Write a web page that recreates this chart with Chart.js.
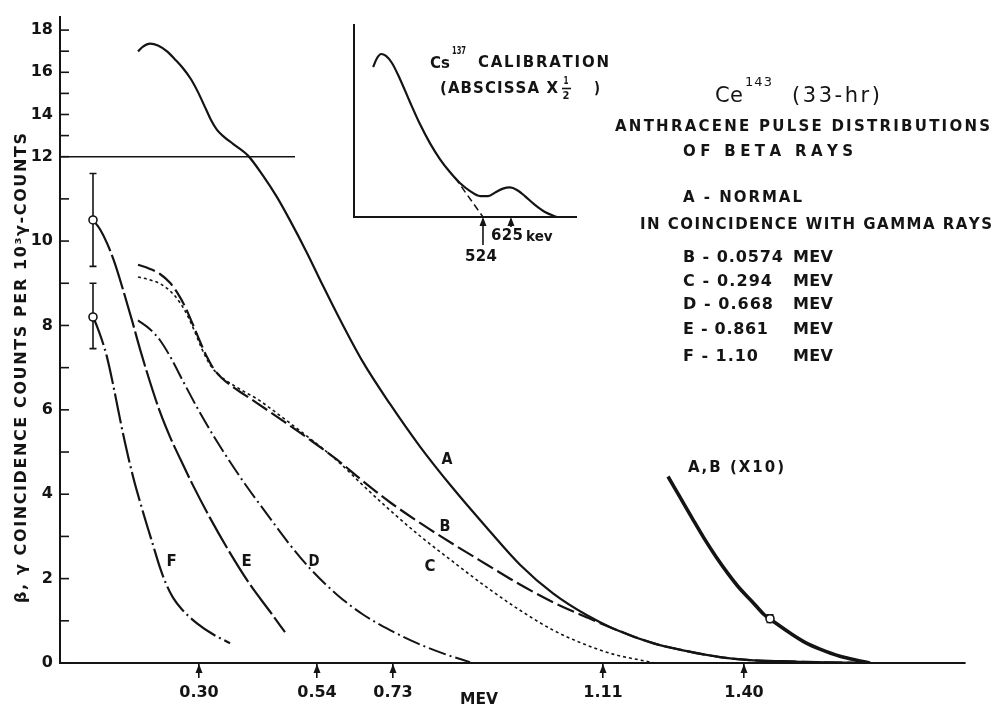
<!DOCTYPE html>
<html>
<head>
<meta charset="utf-8">
<script src="https://cdn.jsdelivr.net/npm/chart.js@4.4.1/dist/chart.umd.min.js"></script>
<style>
  html, body { margin: 0; padding: 0; background: #fff; }
  #wrap { position: relative; width: 996px; height: 709px; }
  #main { position: absolute; left: 0; top: 0; }
  #inset { position: absolute; left: 340px; top: 0; }
</style>
</head>
<body>
<div id="wrap">
  <canvas id="main" width="996" height="709"></canvas>
  <canvas id="inset" width="300" height="270"></canvas>
</div>
<script>
const INK = '#141414';
const FONT = '"DejaVu Sans", sans-serif';

// abscissa is pulse height (arbitrary units); arrows mark calibration energies
const calibPulse = [13.9, 25.7, 33.3, 54.3, 68.4];
const calibMeV = ['0.30', '0.54', '0.73', '1.11', '1.40'];
const countTicks = [0, 1, 2, 3, 4, 5, 6, 7, 8, 9, 10, 11, 12, 13, 14, 15, 16, 17, 18];

// A - normal spectrum
const pulseA = [7.8, 8.3, 9.0, 9.8, 10.7, 11.5, 12.3, 13.1, 13.8, 14.5, 15.1, 15.7, 16.4, 17.3, 18.8, 20.3, 21.7, 23.0, 24.7, 26.3, 28.0, 30.3, 33.0, 36.0, 39.3, 42.7, 46.0, 49.3, 52.7, 55.3, 59.3, 62.7, 66.0, 69.0, 74.0, 80.5];
const countsA = [16.99, 17.22, 17.36, 17.27, 16.99, 16.61, 16.19, 15.67, 15.06, 14.35, 13.74, 13.27, 12.94, 12.61, 12.05, 11.55, 11.04, 10.49, 9.72, 8.94, 8.14, 7.13, 6.14, 5.13, 4.14, 3.2, 2.33, 1.65, 1.13, 0.82, 0.47, 0.28, 0.14, 0.07, 0.03, 0];

// B - coincidence with 0.0574 MeV
const pulseB = [7.8, 9.0, 10.0, 11.0, 11.8, 12.5, 13.2, 14.0, 14.7, 15.4, 16.2, 17.3, 18.5, 19.7, 22.3, 25.0, 27.7, 30.3, 33.0, 36.0, 39.3, 42.7, 46.0, 49.3, 52.7, 55.3, 59.3, 62.7, 66.0, 69.0, 74.0, 80.5];
const countsB = [9.44, 9.34, 9.22, 9.01, 8.75, 8.45, 8.07, 7.62, 7.25, 6.96, 6.75, 6.54, 6.35, 6.16, 5.74, 5.29, 4.82, 4.31, 3.81, 3.32, 2.82, 2.33, 1.86, 1.44, 1.08, 0.82, 0.47, 0.28, 0.14, 0.07, 0.03, 0];

// C - 0.294 MeV
const pulseC = [7.8, 9.0, 10.0, 11.0, 12.0, 12.8, 13.5, 14.2, 14.9, 15.6, 16.4, 17.3, 18.5, 19.7, 22.3, 25.0, 27.7, 30.3, 33.0, 36.0, 39.3, 42.7, 46.0, 49.3, 52.7, 55.3, 58.0, 59.5];
const countsC = [9.15, 9.08, 8.99, 8.82, 8.54, 8.21, 7.84, 7.44, 7.11, 6.89, 6.73, 6.59, 6.42, 6.26, 5.81, 5.32, 4.8, 4.21, 3.62, 3.01, 2.4, 1.79, 1.25, 0.78, 0.42, 0.21, 0.07, 0];

// D - 0.668 MeV
const pulseD = [7.8, 9.0, 10.0, 11.0, 12.3, 14.0, 15.7, 18.3, 20.7, 23.0, 25.0, 27.7, 30.3, 33.0, 35.7, 38.5, 41.0];
const countsD = [8.12, 7.91, 7.65, 7.27, 6.68, 5.93, 5.25, 4.31, 3.53, 2.8, 2.24, 1.62, 1.15, 0.78, 0.47, 0.21, 0.02];

// E - 0.861 MeV
const pulseE = [3.3, 4.0, 4.7, 5.5, 6.3, 7.2, 8.0, 9.0, 10.0, 11.0, 12.0, 13.3, 15.0, 17.0, 19.0, 21.0, 22.5];
const countsE = [10.5, 10.28, 9.95, 9.46, 8.85, 8.12, 7.44, 6.66, 5.95, 5.36, 4.85, 4.21, 3.44, 2.61, 1.86, 1.22, 0.73];

// F - 1.10 MeV
const pulseF = [3.3, 3.7, 4.2, 4.7, 5.3, 5.8, 6.3, 7.3, 8.3, 9.3, 10.0, 10.6, 11.3, 12.2, 13.7, 15.3, 17.0];
const countsF = [8.2, 7.98, 7.65, 7.25, 6.61, 6.02, 5.44, 4.42, 3.58, 2.8, 2.26, 1.88, 1.55, 1.27, 0.94, 0.68, 0.47];

// A,B tail multiplied by ten
const pulseX10 = [60.8, 62.0, 63.2, 64.4, 65.6, 66.8, 68.0, 69.2, 70.4, 71.6, 73.0, 74.5, 76.0, 78.0, 80.0, 81.0];
const countsX10 = [4.42, 3.93, 3.44, 2.96, 2.52, 2.12, 1.76, 1.46, 1.15, 0.94, 0.71, 0.49, 0.33, 0.16, 0.05, 0];

// measured points with error bars
const measuredX = [3.3, 3.3, 71.0];
const measuredY = [10.5, 8.2, 1.05];
const measuredLo = [9.4, 7.45, 0.96];
const measuredHi = [11.6, 9.0, 1.14];

// axis break marker
const breakX = [0, 23.5];
const breakY = [12, 12];

// curve letters
const curveTags = ['A', 'B', 'C', 'D', 'E', 'F'];
const tagX = [38.7, 38.5, 37.0, 25.4, 18.7, 11.2];
const tagY = [4.82, 3.22, 2.28, 2.38, 2.38, 2.38];

// key to the gamma energies
const keyLetters = ['B', 'C', 'D', 'E', 'F'];
const keyEnergies = ['0.0574', '0.294', '0.668', '0.861', '1.10'];

// Cs137 calibration inset
const insetX = [8.6, 10.4, 12.2, 14.4, 17.1, 20.7, 25.2, 29.7, 34.2, 38.7, 43.2, 47.7, 52.3, 56.8, 60.4, 64.0, 67.1, 70.3, 73.4, 77.0, 81.5, 86.0, 91.4];
const insetY = [0.781, 0.828, 0.849, 0.839, 0.802, 0.719, 0.599, 0.484, 0.385, 0.302, 0.234, 0.177, 0.135, 0.109, 0.109, 0.13, 0.148, 0.154, 0.141, 0.109, 0.063, 0.026, 0];
const insetDashX = [45.5, 58.1];
const insetDashY = [0.205, 0];
const insetMarks = [58.1, 70.7];

Chart.defaults.font.family = FONT;
Chart.defaults.font.weight = 'bold';
Chart.defaults.color = INK;

// values above 12 are drawn at half scale
const BREAK_AT = 12;
const fold = v => (v <= BREAK_AT ? v : BREAK_AT + (v - BREAK_AT) / 2);
const unfold = d => (d <= BREAK_AT ? d : BREAK_AT + (d - BREAK_AT) * 2);

class BrokenLinearScale extends Chart.LinearScale {
  getPixelForValue(value) {
    if (value === null || value === undefined) return NaN;
    const lo = fold(this.min), hi = fold(this.max);
    return this.getPixelForDecimal((fold(value) - lo) / (hi - lo));
  }
  getValueForPixel(pixel) {
    const lo = fold(this.min), hi = fold(this.max);
    return unfold(lo + this.getDecimalForPixel(pixel) * (hi - lo));
  }
}
BrokenLinearScale.id = 'brokenLinear';
BrokenLinearScale.defaults = Chart.LinearScale.defaults;
Chart.register(BrokenLinearScale);

const toPoints = (xs, ys) => xs.map((x, i) => ({ x, y: ys[i] }));

function curve(xs, ys, width, dash) {
  return {
    data: toPoints(xs, ys),
    borderColor: INK,
    borderWidth: width,
    borderDash: dash,
    pointRadius: 0,
    fill: false,
    cubicInterpolationMode: 'monotone'
  };
}

// draws text with its letters spread over a given width
function spaced(ctx, text, x, y, width, font, align) {
  ctx.font = font;
  ctx.textAlign = 'left';
  ctx.textBaseline = 'middle';
  const chars = [...text];
  const widths = chars.map(c => ctx.measureText(c).width);
  const natural = widths.reduce((a, b) => a + b, 0);
  const start = align === 'center' ? x - width / 2 : x;
  if (natural >= width || chars.length < 2) {
    ctx.save();
    ctx.translate(start, y);
    ctx.scale(Math.min(1, width / natural), 1);
    ctx.fillText(text, 0, 0);
    ctx.restore();
    return;
  }
  const gap = (width - natural) / (chars.length - 1);
  let cx = start;
  chars.forEach((c, i) => {
    ctx.fillText(c, cx, y);
    cx += widths[i] + gap;
  });
}

function arrowUp(ctx, x, y, len) {
  ctx.beginPath();
  ctx.moveTo(x, y + 2);
  ctx.lineTo(x, y + len);
  ctx.stroke();
  ctx.beginPath();
  ctx.moveTo(x, y);
  ctx.lineTo(x - 3.5, y + 9);
  ctx.lineTo(x + 3.5, y + 9);
  ctx.closePath();
  ctx.fill();
}

const annotate = {
  id: 'annotate',
  beforeDatasetsDraw(chart) {
    const { ctx, scales: { x, y } } = chart;
    ctx.save();
    ctx.strokeStyle = INK;
    ctx.lineWidth = 1.6;
    measuredX.forEach((mx, i) => {
      const px = x.getPixelForValue(mx);
      const top = y.getPixelForValue(measuredHi[i]);
      const bot = y.getPixelForValue(measuredLo[i]);
      ctx.beginPath();
      ctx.moveTo(px, top); ctx.lineTo(px, bot);
      ctx.moveTo(px - 3.5, top); ctx.lineTo(px + 3.5, top);
      ctx.moveTo(px - 3.5, bot); ctx.lineTo(px + 3.5, bot);
      ctx.stroke();
    });
    ctx.restore();
  },
  afterDraw(chart) {
    const { ctx, chartArea: area, scales: { x, y } } = chart;
    ctx.save();
    ctx.strokeStyle = INK;
    ctx.fillStyle = INK;

    // tick marks on the inside of the ordinate
    ctx.lineWidth = 1.6;
    y.ticks.forEach(t => {
      const py = y.getPixelForValue(t.value);
      ctx.beginPath();
      ctx.moveTo(area.left, py);
      ctx.lineTo(area.left + 9, py);
      ctx.stroke();
    });

    // arrow heads on the calibration marks
    x.ticks.forEach(t => {
      const px = x.getPixelForValue(t.value);
      ctx.beginPath();
      ctx.moveTo(px, area.bottom + 1);
      ctx.lineTo(px - 3.5, area.bottom + 10);
      ctx.lineTo(px + 3.5, area.bottom + 10);
      ctx.closePath();
      ctx.fill();
    });

    const bold = s => 'bold ' + s + 'px ' + FONT;

    // axis titles
    spaced(ctx, 'MEV', 479, 700, 38, bold(16), 'center');
    ctx.save();
    ctx.translate(22, 368);
    ctx.rotate(-Math.PI / 2);
    spaced(ctx, 'β, γ COINCIDENCE COUNTS PER 10³γ-COUNTS', 0, 0, 470, bold(16), 'center');
    ctx.restore();

    // curve letters
    curveTags.forEach((t, i) => {
      spaced(ctx, t, x.getPixelForValue(tagX[i]), y.getPixelForValue(tagY[i]), 11, bold(15), 'center');
    });
    spaced(ctx, 'A,B (X10)', x.getPixelForValue(62.8), y.getPixelForValue(4.61), 96, bold(15));

    // title block
    spaced(ctx, 'Ce', 715, 97, 28, '21px ' + FONT);
    spaced(ctx, '143', 745, 83, 27, '13px ' + FONT);
    spaced(ctx, '(33-hr)', 792, 97, 88, '21px ' + FONT);
    spaced(ctx, 'ANTHRACENE PULSE DISTRIBUTIONS', 615, 127, 375, bold(15));
    spaced(ctx, 'OF BETA RAYS', 683, 152, 170, bold(15));
    spaced(ctx, 'A - NORMAL', 683, 198, 119, bold(15));
    spaced(ctx, 'IN COINCIDENCE WITH GAMMA RAYS', 640, 225, 352, bold(15));

    const keyRows = [258, 282, 305, 330, 357];
    const keyWidths = [100, 89, 90, 85, 75];
    keyLetters.forEach((k, i) => {
      spaced(ctx, k + ' - ' + keyEnergies[i], 683, keyRows[i], keyWidths[i], bold(16));
      spaced(ctx, 'MEV', 793, keyRows[i], 40, bold(16));
    });
    ctx.restore();
  }
};

new Chart(document.getElementById('main'), {
  type: 'line',
  data: {
    datasets: [
      {
        data: toPoints(measuredX, measuredY),
        showLine: false,
        pointRadius: 4,
        pointBackgroundColor: '#fff',
        pointBorderColor: INK,
        pointBorderWidth: 1.6
      },
      curve(pulseA, countsA, 2.2, []),
      curve(pulseB, countsB, 2.2, [18, 5]),
      curve(pulseC, countsC, 1.6, [3, 3]),
      curve(pulseD, countsD, 2.0, [18, 4, 2, 4]),
      curve(pulseE, countsE, 2.2, [36, 4]),
      curve(pulseF, countsF, 2.2, [30, 4, 2, 4]),
      curve(pulseX10, countsX10, 3.6, []),
      curve(breakX, breakY, 1.6, [])
    ]
  },
  options: {
    responsive: false,
    animation: false,
    events: [],
    layout: { padding: { top: 12, right: 31, bottom: 0, left: 0 } },
    plugins: { legend: { display: false }, tooltip: { enabled: false } },
    scales: {
      x: {
        type: 'linear',
        min: 0,
        max: 90.5,
        bounds: 'data',
        afterBuildTicks: s => { s.ticks = calibPulse.map(value => ({ value })); },
        afterFit: s => { s.height = 46; },
        ticks: {
          autoSkip: false,
          maxRotation: 0,
          padding: 5,
          color: INK,
          font: { size: 16, weight: 'bold' },
          callback: (v, i) => calibMeV[i]
        },
        grid: { drawOnChartArea: false, drawTicks: true, tickLength: 15, lineWidth: 1.6, color: INK },
        border: { display: true, color: INK, width: 2 }
      },
      y: {
        type: 'brokenLinear',
        min: 0,
        max: 18.64,
        bounds: 'data',
        afterBuildTicks: s => { s.ticks = countTicks.map(value => ({ value })); },
        afterFit: s => { s.width = 60; },
        ticks: {
          autoSkip: false,
          padding: 7,
          color: INK,
          font: { size: 16, weight: 'bold' },
          callback: v => (v % 2 === 0 ? String(v) : '')
        },
        grid: { display: false, drawTicks: false },
        border: { display: true, color: INK, width: 2 }
      }
    }
  },
  plugins: [annotate]
});

// inset: Cs137 calibration spectrum
const INSET_LEFT = 340;
const insetNotes = {
  id: 'insetNotes',
  afterDraw(chart) {
    const { ctx, chartArea: area, scales: { x } } = chart;
    const bold = s => 'bold ' + s + 'px ' + FONT;
    const at = px => px - INSET_LEFT;
    ctx.save();
    ctx.strokeStyle = INK;
    ctx.fillStyle = INK;
    ctx.lineWidth = 1.6;
    arrowUp(ctx, x.getPixelForValue(insetMarks[0]), area.bottom, 28);
    arrowUp(ctx, x.getPixelForValue(insetMarks[1]), area.bottom, 10);

    spaced(ctx, '524', x.getPixelForValue(insetMarks[0]) - 2, 257, 32, bold(15), 'center');
    spaced(ctx, '625', at(491), 236, 32, bold(15));
    spaced(ctx, 'kev', at(526), 237, 27, bold(14));

    spaced(ctx, 'Cs', at(430), 64, 20, bold(15));
    spaced(ctx, '137', at(452), 51, 14, bold(10));
    spaced(ctx, 'CALIBRATION', at(478), 63, 131, bold(15));
    spaced(ctx, '(ABSCISSA X', at(440), 89, 118, bold(15));
    spaced(ctx, '1', at(566), 81, 5, bold(10), 'center');
    spaced(ctx, '2', at(566), 96, 7, bold(10), 'center');
    ctx.beginPath();
    ctx.moveTo(at(562), 88.5);
    ctx.lineTo(at(571), 88.5);
    ctx.stroke();
    spaced(ctx, ')', at(594), 89, 6, bold(15));
    ctx.restore();
  }
};

new Chart(document.getElementById('inset'), {
  type: 'line',
  data: {
    datasets: [
      curve(insetX, insetY, 2.2, []),
      curve(insetDashX, insetDashY, 1.5, [7, 4])
    ]
  },
  options: {
    responsive: false,
    animation: false,
    events: [],
    layout: { padding: { top: 25, right: 64, bottom: 0, left: 0 } },
    plugins: { legend: { display: false }, tooltip: { enabled: false } },
    scales: {
      x: {
        type: 'linear', min: 0, max: 100, bounds: 'data',
        afterFit: s => { s.height = 53; },
        ticks: { display: false },
        grid: { display: false, drawTicks: false },
        border: { display: true, color: INK, width: 2 }
      },
      y: {
        type: 'linear', min: 0, max: 1, bounds: 'data',
        afterFit: s => { s.width = 14; },
        ticks: { display: false },
        grid: { display: false, drawTicks: false },
        border: { display: true, color: INK, width: 2 }
      }
    }
  },
  plugins: [insetNotes]
});
</script>
</body>
</html>
